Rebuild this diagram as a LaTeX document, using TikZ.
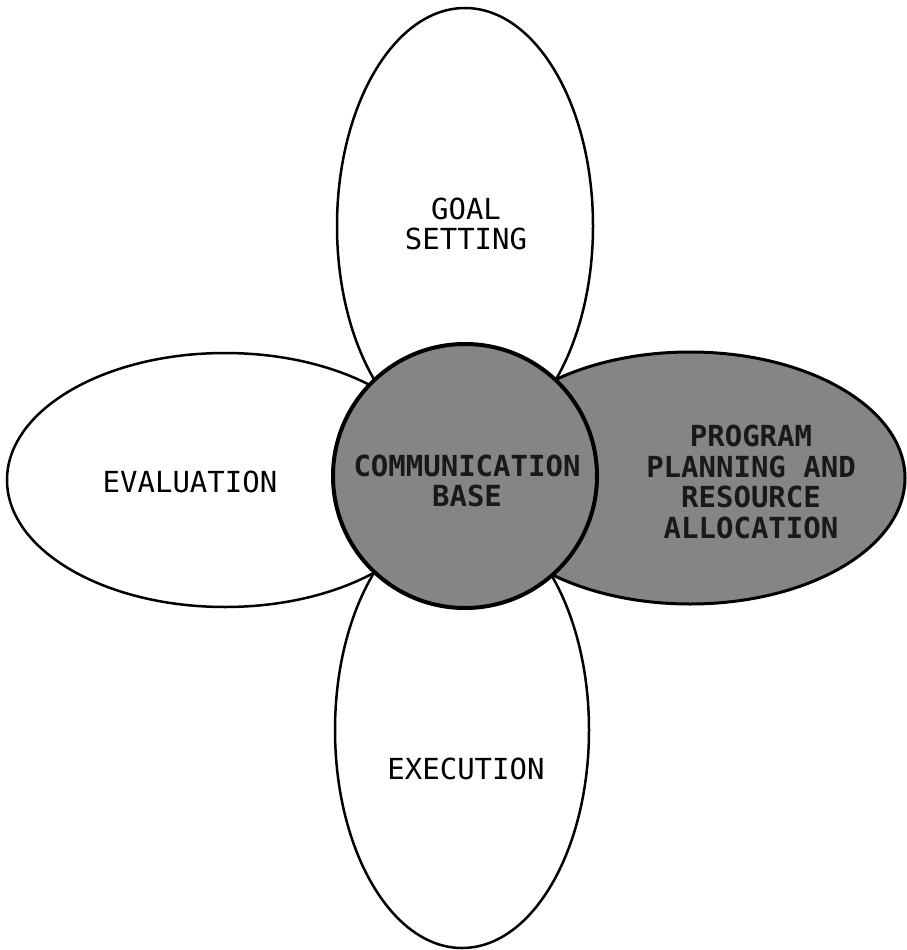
\documentclass[tikz,border=0pt]{standalone}
\usepackage{fontspec}
\newfontfamily\monofont{DejaVu Sans Mono}
\usetikzlibrary{shapes.geometric}
\begin{document}
\begin{tikzpicture}[x=1pt,y=-1pt,
  petal/.style={ellipse,draw=black,line width=2.5pt,inner sep=0pt,outer sep=0pt},
  shaded/.style={fill=black!48},
  lbl/.style={font=\monofont\fontsize{29}{30.5}\selectfont,align=center,inner sep=0pt,text=black},
  boldlbl/.style={font=\monofont\bfseries\fontsize{29}{30.5}\selectfont,align=center,inner sep=0pt,text=black!90}]
\fill[white] (0,0) rectangle (907,950);
\useasboundingbox (0,0) rectangle (907,950);
% petals
\node[petal,fill=white,minimum width=256pt,minimum height=436pt] (goal) at (465,226) {};
\node[petal,fill=white,minimum width=254pt,minimum height=436pt] (exec) at (462,730) {};
\node[petal,fill=white,minimum width=436pt,minimum height=254pt] (eval) at (225,480) {};
\node[petal,shaded,line width=3pt,minimum width=430pt,minimum height=252pt] (plan) at (690,478) {};
% centre circle
\node[circle,draw=black,line width=4pt,shaded,minimum size=264pt,inner sep=0pt] (comm) at (465,476) {};
% labels
\node[lbl] (goaltext) at (466,224) {GOAL\\SETTING};
\node[lbl] (evaltext) at (190,482) {EVALUATION};
\node[lbl] (exectext) at (466,769) {EXECUTION};
\node[boldlbl] (commtext) at (467,481) {COMMUNICATION\\BASE};
\node[boldlbl] (plantext) at (751,482) {PROGRAM\\PLANNING AND\\RESOURCE\\ALLOCATION};
\end{tikzpicture}
\end{document}
